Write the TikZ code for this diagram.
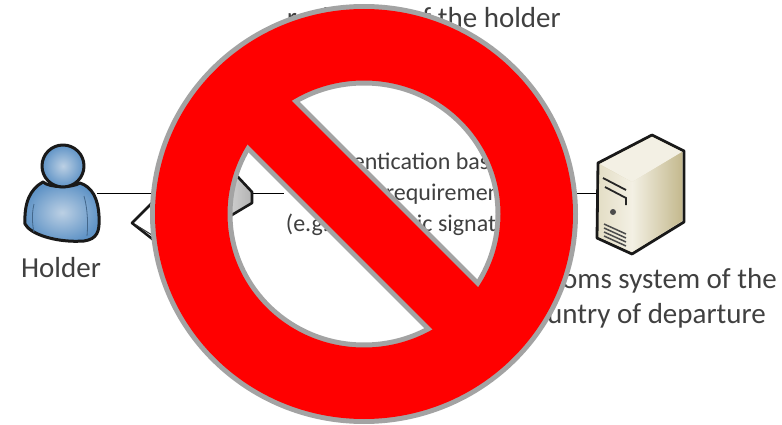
\documentclass[tikz,border=0pt]{standalone}
\usepackage{fontspec}
\setmainfont{Carlito}
\definecolor{txt}{HTML}{404040}
\definecolor{ringgray}{HTML}{A3A3A3}
\definecolor{beige}{HTML}{E4DEC6}
\definecolor{beigeD}{HTML}{C4B98E}
\definecolor{beigeL}{HTML}{F3F0E4}
\definecolor{skyL}{HTML}{BCD0E4}
\definecolor{skyD}{HTML}{5F93C6}
\tikzset{
  lbl/.style={text=txt,inner sep=0pt,align=center},
  big/.style={lbl,font=\fontsize{29}{35}\selectfont},
  mid/.style={lbl,font=\fontsize{24}{31}\selectfont},
  outline/.style={draw=black!90,line width=2.6pt,line join=round},
  wire/.style={draw=black,line width=1pt},
}
\begin{document}
\begin{tikzpicture}[x=1pt,y=-1pt]
\useasboundingbox (0,0) rectangle (782,425);
% texts
\node[big,anchor=east] (top) at (561,18) {residence of the holder};
\node[mid,fill=white,inner xsep=2pt] (mid1) at (411,194) {authentication based\\on legal requirements\\(e.g. electronic signature)};
\node[big,anchor=east] (sys) at (777,281) {Customs system of the};
\node[big,anchor=east] (ctry) at (766,316) {country of departure};
\node[big] (holder) at (61,268) {Holder};
% anchors of the pictures
\coordinate (hr) at (97,193);
\coordinate (dl) at (190,193);
\coordinate (dr) at (252,193);
\coordinate (sl) at (598,193);
% connectors
\draw[wire] (hr) -- (dl);
\draw[wire] (dr) -- (mid1.west |- dr);
\draw[wire] (mid1.east |- sl) -- (sl);
% holder
\path[outline,line width=3pt,inner color=skyL,outer color=skyD]
  (43,182) .. controls (30,189) and (24,203) .. (25,224)
  .. controls (30,234) and (56,243) .. (84,241) .. controls (97,239) and (100,232) .. (99,216)
  .. controls (98,198) and (92,187) .. (80,183) .. controls (72,188) and (50,188) .. (43,182) -- cycle;
\draw[skyD!70!black,line width=.8pt] (34,204) .. controls (31,216) and (33,228) .. (34,232)
  (84,196) .. controls (88,210) and (88,226) .. (87,236);
\path[outline,line width=3pt,inner color=skyL,outer color=skyD]
  (63,166) circle[radius=21];
% device
\path[outline,left color=white,right color=gray!60,middle color=white] (132,223) -- (190,165) -- (238,177) -- (252,192) -- (252,203) -- (190,240) -- (160,245) -- cycle;
\draw[black!80,line width=1pt] (136,225) -- (160,240);
% server
\path[outline,line width=2.8pt,fill=beige] (598,163) -- (652,135) -- (684,151) -- (684,222) -- (632,254) -- (597,238) -- cycle;
\path[fill=beigeL] (600,164) -- (652,137) -- (682,152) -- (632,182) -- cycle;
\path[left color=beigeL,right color=beigeD] (632,182) -- (682,152) -- (682,221) -- (632,252) -- cycle;
\path[left color=beige,right color=beigeL] (600,165) -- (632,182) -- (632,252) -- (599,237) -- cycle;
\draw[black!85,line width=1.8pt] (603,178) -- (626,190) (605,187) -- (626,198) -- (626,205);
\fill[black!70] (613,212) circle[radius=3];
\foreach \i in {0,4,8,12} \draw[black!70,line width=1.5pt] (604,224+\i) -- (626,234+\i);
% prohibition sign
\draw[ringgray,line width=72pt] (362.5,215.5) +(-130,-130) -- +(130,130);
\fill[ringgray,even odd rule] (364,214) ellipse[x radius=214,y radius=210] (364,214) ellipse[x radius=131.5,y radius=128.5];
\fill[red,even odd rule] (364,214) ellipse[x radius=209,y radius=205] (364,214) ellipse[x radius=136.5,y radius=133.5];
\draw[red,line width=62pt] (362.5,215.5) +(-130,-130) -- +(130,130);
\end{tikzpicture}
\end{document}
